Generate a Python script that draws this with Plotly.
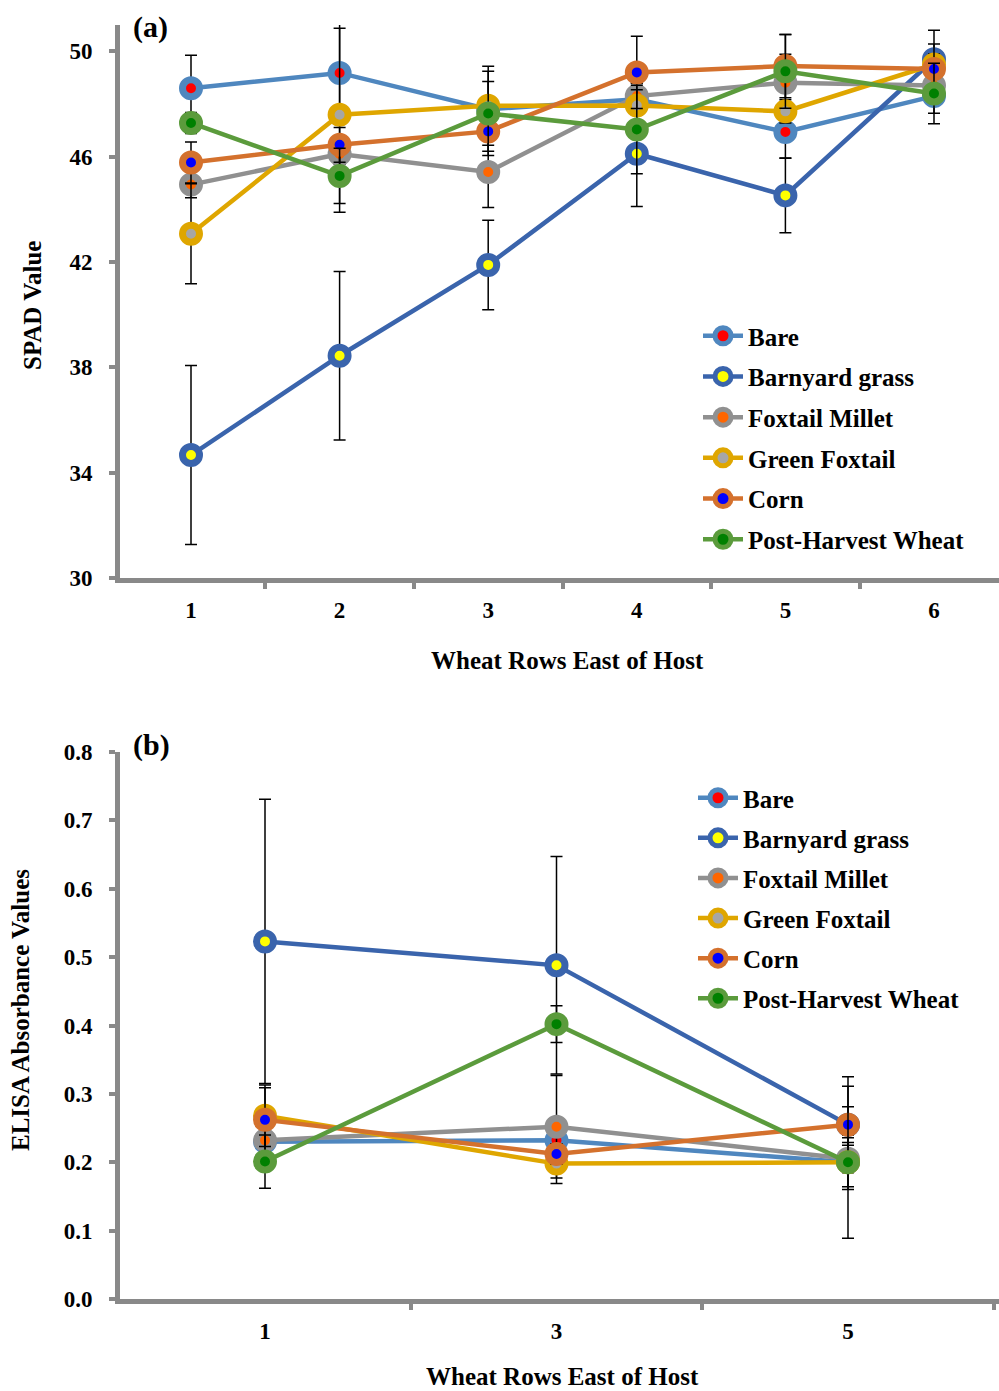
import plotly.graph_objects as go

# ---------------- data ----------------
series = ["Bare", "Barnyard grass", "Foxtail Millet", "Green Foxtail", "Corn", "Post-Harvest Wheat"]

# (a) SPAD readings by wheat row east of the host plot
spad_rows = [1, 2, 3, 4, 5, 6]
spad_bare = [48.6, 49.18, 47.8, 48.18, 46.94, 48.3]
spad_barnyard = [34.67, 38.44, 41.89, 46.11, 44.53, 49.7]
spad_foxtail_millet = [44.94, 46.1, 45.42, 48.3, 48.81, 48.7]
spad_green_foxtail = [43.07, 47.59, 47.93, 47.94, 47.72, 49.5]
spad_corn = [45.78, 46.45, 46.96, 49.2, 49.44, 49.33]
spad_wheat = [47.28, 45.27, 47.64, 47.03, 49.24, 48.4]

spad_err_bare = [1.25, 1.7, 1.05, 0.6, 1.0, 0.65]
spad_err_barnyard = [3.4, 3.2, 1.7, 2.0, 1.42, 1.1]
spad_err_foxtail_millet = [0.5, 0.4, 1.35, 0.5, 1.08, 0.5]
spad_err_green_foxtail = [1.9, 3.7, 1.5, 0.6, 0.44, 0.4]
spad_err_corn = [0.78, 0.66, 0.75, 1.37, 1.2, 0.95]
spad_err_wheat = [0.4, 1.05, 1.6, 1.68, 1.4, 1.15]

# (b) ELISA absorbance by wheat row east of the host plot
elisa_rows = ["1", "3", "5"]
elisa_bare = [0.23, 0.232, 0.2]
elisa_barnyard = [0.523, 0.488, 0.255]
elisa_foxtail_millet = [0.232, 0.252, 0.205]
elisa_green_foxtail = [0.268, 0.198, 0.2]
elisa_corn = [0.262, 0.212, 0.255]
elisa_wheat = [0.201, 0.402, 0.2]

elisa_err_bare = [0.015, 0.015, 0.036]
elisa_err_barnyard = [0.208, 0.159, 0.07]
elisa_err_foxtail_millet = [0.015, 0.075, 0.02]
elisa_err_green_foxtail = [0.045, 0.029, 0.04]
elisa_err_corn = [0.047, 0.015, 0.026]
elisa_err_wheat = [0.039, 0.027, 0.111]

# ---------------- styling ----------------
ring_colors = ["#4F87BF", "#3A64AC", "#909090", "#DFA600", "#D4712D", "#5B9B3C"]
dot_colors = ["#FF0000", "#FFFF00", "#FF6600", "#A6A6A6", "#0000FF", "#008000"]
FONT = "Liberation Serif"
AXIS_GRAY = "#898989"
W, H = 999, 1391


def px_x(p):
    return p / W


def px_y(p):
    return (H - p) / H


spad_values = [spad_bare, spad_barnyard, spad_foxtail_millet, spad_green_foxtail, spad_corn, spad_wheat]
spad_errors = [spad_err_bare, spad_err_barnyard, spad_err_foxtail_millet,
               spad_err_green_foxtail, spad_err_corn, spad_err_wheat]
elisa_values = [elisa_bare, elisa_barnyard, elisa_foxtail_millet, elisa_green_foxtail, elisa_corn, elisa_wheat]
elisa_errors = [elisa_err_bare, elisa_err_barnyard, elisa_err_foxtail_millet,
                elisa_err_green_foxtail, elisa_err_corn, elisa_err_wheat]

elisa_pos = list(range(1, len(elisa_rows) + 1))

fig = go.Figure()


def add_series(x, y, err, i, xa, ya, legend):
    fig.add_trace(go.Scatter(
        x=x, y=y, name=series[i], mode="lines+markers",
        xaxis=xa, yaxis=ya, legend=legend, legendgroup=f"{legend}-{i}",
        line=dict(color=ring_colors[i], width=4.5),
        marker=dict(size=17, color=dot_colors[i], line=dict(color=ring_colors[i], width=7)),
        error_y=dict(type="data", array=err, visible=True, color="black", thickness=1.5, width=6),
    ))


for i in range(len(series)):
    add_series(spad_rows, spad_values[i], spad_errors[i], i, "x", "y", "legend")
for i in range(len(series)):
    add_series(elisa_pos, elisa_values[i], elisa_errors[i], i, "x2", "y2", "legend2")

tick_font = dict(family=FONT, size=23, color="black", weight="bold")
axis_common = dict(showline=True, linecolor=AXIS_GRAY, linewidth=5, showgrid=False,
                   zeroline=False, tickfont=tick_font, automargin=False)

xdom = [px_x(120), 1.0]
legend_font = dict(family=FONT, size=25, color="black", weight="bold")

fig.update_layout(
    width=W, height=H,
    margin=dict(l=0, r=0, t=0, b=0, autoexpand=False),
    paper_bgcolor="white", plot_bgcolor="white",
    showlegend=True,
    xaxis=dict(axis_common, domain=xdom, anchor="y",
               range=[1 - (191 - 120) / 148.6, 1 + (999 - 191) / 148.6],
               tickmode="array", tickvals=spad_rows, ticktext=[str(r) for r in spad_rows],
               ticks="", ticklabelstandoff=7,
               minor=dict(tickmode="array", tickvals=[r - 0.5 for r in spad_rows] + [spad_rows[-1] + 0.5],
                          ticks="outside", ticklen=6, tickwidth=4, tickcolor=AXIS_GRAY)),
    yaxis=dict(axis_common, domain=[px_y(578), px_y(25)], anchor="x",
               range=[30, 51], tickmode="array", tickvals=[30, 34, 38, 42, 46, 50],
               ticks="outside", ticklen=6, tickwidth=4, tickcolor=AXIS_GRAY, ticklabelstandoff=12),
    xaxis2=dict(axis_common, domain=xdom, anchor="y2",
                range=[1 - (265 - 120) / 291.5, 1 + (999 - 265) / 291.5],
                tickmode="array", tickvals=elisa_pos, ticktext=elisa_rows,
                ticks="", ticklabelstandoff=7,
                minor=dict(tickmode="array", tickvals=[p - 0.5 for p in elisa_pos] + [elisa_pos[-1] + 0.5],
                           ticks="outside", ticklen=6, tickwidth=4, tickcolor=AXIS_GRAY)),
    yaxis2=dict(axis_common, domain=[px_y(1299), px_y(752)], anchor="x2",
                range=[0, 0.8], tickmode="array", tickvals=[0, 0.1, 0.2, 0.3, 0.4, 0.5, 0.6, 0.7, 0.8],
                tickformat=".1f",
                ticks="outside", ticklen=6, tickwidth=4, tickcolor=AXIS_GRAY, ticklabelstandoff=12),
    legend=dict(x=px_x(698), y=px_y(313), xanchor="left", yanchor="top", font=legend_font,
                bgcolor="rgba(0,0,0,0)", tracegroupgap=5.2, itemsizing="trace", itemwidth=40),
    legend2=dict(x=px_x(693), y=px_y(775), xanchor="left", yanchor="top", font=legend_font,
                 bgcolor="rgba(0,0,0,0)", tracegroupgap=4.6, itemsizing="trace", itemwidth=40),
)

label_font = dict(family=FONT, size=25, color="black", weight="bold")
annotations = [
    dict(text="(a)", x=px_x(150), y=px_y(27), font=dict(family=FONT, size=30, color="black", weight="bold")),
    dict(text="(b)", x=px_x(151), y=px_y(745), font=dict(family=FONT, size=30, color="black", weight="bold")),
    dict(text="SPAD Value", x=px_x(32), y=px_y(306), textangle=-90, font=label_font),
    dict(text="ELISA Absorbance Values", x=px_x(20), y=px_y(1010), textangle=-90, font=label_font),
    dict(text="Wheat Rows East of Host", x=px_x(567), y=px_y(660), font=label_font),
    dict(text="Wheat Rows East of Host", x=px_x(562), y=px_y(1376), font=label_font),
]
for a in annotations:
    fig.add_annotation(xref="paper", yref="paper", xanchor="center", yanchor="middle",
                       showarrow=False, **a)

fig.write_html("out.html")
